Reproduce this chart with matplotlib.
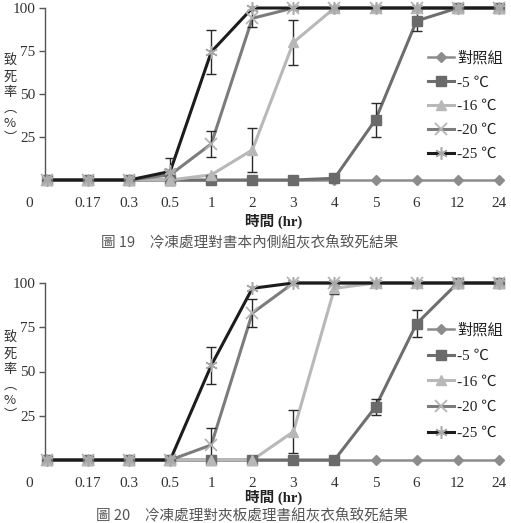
import numpy as np
import matplotlib
matplotlib.use("Agg")
import matplotlib.pyplot as plt
from matplotlib.lines import Line2D
import matplotlib.transforms as mtransforms

plt.rcParams['font.family'] = ['Liberation Serif', 'Noto Sans CJK TC', 'DejaVu Sans']

# ---------------- data ----------------
time_labels = ["0", "0.17", "0.3", "0.5", "1", "2", "3", "4", "5", "6", "12", "24"]
series_names = ["對照組", "-5 ℃", "-16 ℃", "-20 ℃", "-25 ℃"]

# Figure 19 (book inner side)
f19_control = [0, 0, 0, 0, 0, 0, 0, 0, 0, 0, 0, 0]
f19_m5 = [0, 0, 0, 0, 0, 0, 0, 1, 35, 92.5, 100, 100]
f19_m16 = [0, 0, 0, 0, 3, 17.5, 80, 100, 100, 100, 100, 100]
f19_m20 = [0, 0, 0, 3, 21, 94, 100, 100, 100, 100, 100, 100]
f19_m25 = [0, 0, 0, 5, 74.5, 100, 100, 100, 100, 100, 100, 100]
f19_m5_err = [0, 0, 0, 0, 0, 0, 0, 0, 10, 6, 0, 0]
f19_m16_err = [0, 0, 0, 0, 0, 13, 13, 0, 0, 0, 0, 0]
f19_m20_err = [0, 0, 0, 0, 7.5, 5, 0, 0, 0, 0, 0, 0]
f19_m25_err = [0, 0, 0, 8, 13, 0, 0, 0, 0, 0, 0, 0]

# Figure 20 (plywood-treated books)
f20_control = [0, 0, 0, 0, 0, 0, 0, 0, 0, 0, 0, 0]
f20_m5 = [0, 0, 0, 0, 0, 0, 0, 0, 30, 77, 100, 100]
f20_m16 = [0, 0, 0, 0, 0, 0, 16, 97, 100, 100, 100, 100]
f20_m20 = [0, 0, 0, 0, 8.5, 83, 100, 100, 100, 100, 100, 100]
f20_m25 = [0, 0, 0, 0, 53.5, 97, 100, 100, 100, 100, 100, 100]
f20_m5_err = [0, 0, 0, 0, 0, 0, 0, 0, 4.5, 7.5, 0, 0]
f20_m16_err = [0, 0, 0, 0, 0, 0, 12, 3, 0, 0, 0, 0]
f20_m20_err = [0, 0, 0, 0, 9.5, 8, 0, 0, 0, 0, 0, 0]
f20_m25_err = [0, 0, 0, 0, 10.5, 0, 0, 0, 0, 0, 0, 0]

y_ticks = [25, 50, 75, 100]
captions = ["圖 19　冷凍處理對書本內側組灰衣魚致死結果",
            "圖 20　冷凍處理對夾板處理書組灰衣魚致死結果"]
x_title = "時間 (hr)"
y_title = "致\n死\n率\n︵\n%\n︶"

# ---------------- styles ----------------
styles = [
    dict(color='#8c8c8c', marker='D', ms=5.5, mfc='#8c8c8c', mec='#8c8c8c', lw=1.8, mew=1.0),
    dict(color='#6e6e6e', marker='s', ms=7.5, mfc='#6a6a6a', mec='#6a6a6a', lw=2.2, mew=1.0),
    dict(color='#b8b8b8', marker='^', ms=7.5, mfc='#b8b8b8', mec='#b8b8b8', lw=2.2, mew=1.0),
    dict(color='#7c7c7c', marker='x', ms=8, mfc='none', mec='#b4b4b4', lw=2.2, mew=1.3),
    dict(color='#1c1c1c', marker=(6, 2, 0), ms=9, mfc='none', mec='#a8a8a8', lw=2.2, mew=1.1),
]

W, H = 511, 523
fig = plt.figure(figsize=(W / 100, H / 100), dpi=100)

x = np.arange(len(time_labels))


def draw(ax_rect, values, errs, legend_top, leg_spacing, ylab_center, xlabel_y):
    ax = fig.add_axes(ax_rect)
    for v, st in zip(values, styles):
        ax.plot(x, v, color=st['color'], lw=st['lw'], zorder=2, clip_on=False,
                solid_joinstyle='miter')
    for v, e in zip(values, errs):
        v = np.asarray(v, float)
        e = np.asarray(e, float)
        m = e > 0
        if m.any():
            ax.errorbar(x[m], v[m], yerr=e[m], fmt='none', ecolor='#2a2a2a',
                        elinewidth=1.0, capsize=3.5, capthick=1.0, zorder=2.5, clip_on=False)
    for v, st in zip(values, styles):
        ax.plot(x, v, ls='none', marker=st['marker'], ms=st['ms'], mfc=st['mfc'],
                mec=st['mec'], mew=st['mew'], zorder=3, clip_on=False)

    ax.set_xlim(-0.05, 11.3)
    ax.set_ylim(0, 100)
    for s in ['top', 'right', 'bottom']:
        ax.spines[s].set_visible(False)
    ax.spines['left'].set_color('#555555')
    ax.spines['left'].set_linewidth(1.0)
    ax.set_yticks(y_ticks)
    ax.set_yticklabels([str(t) for t in y_ticks])
    ax.tick_params(axis='y', length=4, width=1, color='#555555', labelsize=11,
                   labelcolor='#333333', pad=3)
    ax.set_xticks(x[1:])
    ax.set_xticklabels(time_labels[1:])
    ax.tick_params(axis='x', length=0, labelsize=11, labelcolor='#333333', pad=12)
    trans = mtransforms.blended_transform_factory(ax.transData, ax.transAxes)
    ax.text(-0.44, 0, time_labels[0],
            transform=trans + mtransforms.ScaledTranslation(0, -12 / 72, fig.dpi_scale_trans),
            ha='center', va='top', fontsize=11, color='#333333')

    handles = [Line2D([0], [0], color=st['color'], lw=st['lw'], marker=st['marker'], ms=st['ms'],
                      mfc=st['mfc'], mec=st['mec'], mew=st['mew']) for st in styles]
    ax.legend(handles, series_names, loc='upper left',
              bbox_to_anchor=(428 / W, legend_top), bbox_transform=fig.transFigure,
              frameon=False, fontsize=11, handlelength=1.7, handletextpad=0.2,
              labelspacing=leg_spacing, borderaxespad=0, borderpad=0,
              labelcolor='#222222')

    fig.text(10 / W, ylab_center, y_title, ha='center', va='center', fontsize=9.5,
             linespacing=1.25, color='#333333', family=['Noto Sans CJK TC'])
    fig.text(274 / W, xlabel_y, x_title, ha='center', va='center', fontsize=10.5,
             color='#222222', fontweight='bold')
    return ax


draw([45 / W, 1 - 180 / H, 466 / W, 172 / H],
     [f19_control, f19_m5, f19_m16, f19_m20, f19_m25],
     [f19_control, f19_m5_err, f19_m16_err, f19_m20_err, f19_m25_err],
     1 - 51 / H, 0.67, 1 - 100 / H, 1 - 221 / H)
fig.text(250 / W, 1 - 243 / H, captions[0], ha='center', va='center', fontsize=10.5,
         color='#555555', family=['Noto Sans CJK TC'])

draw([45 / W, 1 - 460 / H, 466 / W, 177 / H],
     [f20_control, f20_m5, f20_m16, f20_m20, f20_m25],
     [f20_control, f20_m5_err, f20_m16_err, f20_m20_err, f20_m25_err],
     1 - 323 / H, 0.78, 1 - 377 / H, 1 - 497 / H)
fig.text(252 / W, 1 - 516 / H, captions[1], ha='center', va='center', fontsize=10.5,
         color='#555555', family=['Noto Sans CJK TC'])

fig.savefig("out.png", dpi=100, facecolor='white')
